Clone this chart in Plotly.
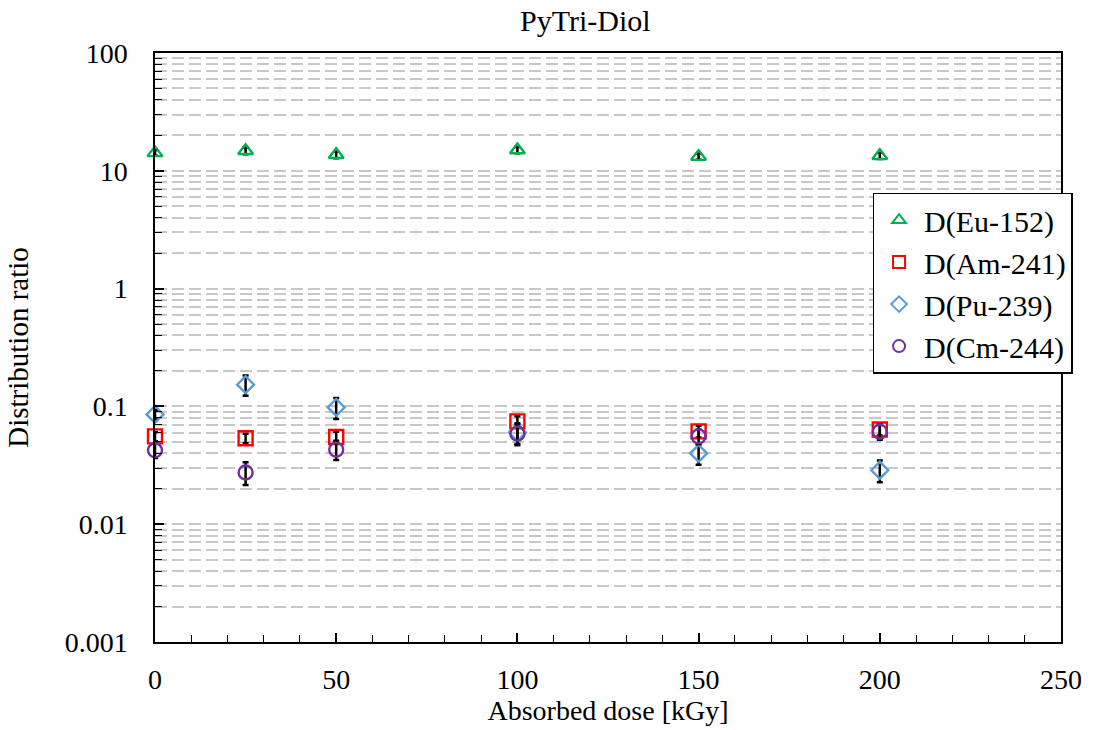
import plotly.graph_objects as go

dose = [0, 25, 50, 100, 150, 200]
d_eu = [14.2, 14.8, 13.7, 15.0, 13.2, 13.4]
e_eu = [0.8, 1.0, 0.9, 0.9, 0.8, 0.8]
d_am = [0.0557, 0.0536, 0.055, 0.0746, 0.0614, 0.0637]
e_am = [0.005, 0.005, 0.006, 0.008, 0.007, 0.007]
d_pu = [0.0855, 0.153, 0.098, 0.060, 0.040, 0.0287]
e_pu = [0.008, 0.030, 0.020, 0.012, 0.008, 0.006]
d_cm = [0.0424, 0.0275, 0.043, 0.0587, 0.0557, 0.061]
e_cm = [0.006, 0.006, 0.008, 0.012, 0.008, 0.009]

series = [
    ("D(Eu-152)", d_eu, e_eu, "triangle-up-open", "#00B050", 13),
    ("D(Am-241)", d_am, e_am, "square-open", "#FF0000", 14),
    ("D(Pu-239)", d_pu, e_pu, "diamond-open", "#5B9BD5", 13),
    ("D(Cm-244)", d_cm, e_cm, "circle-open", "#7030A0", 14),
]

fig = go.Figure()
for name, ys, es, sym, col, sz in series:
    fig.add_trace(go.Scatter(
        x=dose, y=ys, mode="markers", name=name,
        marker=dict(symbol=sym, size=sz, color=col, line=dict(width=2.4, color=col)),
        error_y=dict(type="data", array=es, visible=True, color="black", thickness=2.5, width=3),
        cliponaxis=False,
    ))

minor_vals = [m * 10.0 ** p for p in range(-3, 2) for m in range(2, 10)]

font = "Liberation Serif, Times New Roman, serif"
fig.update_layout(
    width=1094, height=730,
    margin=dict(l=155, r=28, t=53, b=87),
    paper_bgcolor="white", plot_bgcolor="white",
    font=dict(family=font, color="black", size=28),
    title=dict(text="PyTri-Diol", x=0.535, xanchor="center", y=0.972, yanchor="middle",
               font=dict(size=30, family=font)),
    showlegend=True,
    legend=dict(x=0.792, y=0.763, xanchor="left", yanchor="top",
                bgcolor="white", bordercolor="black", borderwidth=1.5,
                font=dict(size=30, family=font), itemsizing="constant",
                itemwidth=40, tracegroupgap=0),
    xaxis=dict(
        range=[0, 250], tickvals=[0, 50, 100, 150, 200, 250],
        showgrid=False, zeroline=False,
        showline=True, linecolor="black", linewidth=1.5, mirror=True,
        ticks="inside", ticklen=9, tickwidth=1.5, tickcolor="black",
        ticklabelstandoff=12,
        minor=dict(dtick=10, ticks="inside", ticklen=7, tickwidth=1.3, tickcolor="black", showgrid=False),
        title=dict(text="Absorbed dose [kGy]", font=dict(size=28, family=font), standoff=3),
        tickfont=dict(size=28, family=font),
    ),
    yaxis=dict(
        type="log", range=[-3, 2],
        tickvals=[0.001, 0.01, 0.1, 1, 10, 100],
        ticktext=["0.001", "0.01", "0.1", "1", "10", "100"],
        showgrid=True, gridcolor="#C8C8C8", gridwidth=1.5, griddash="12px,5px",
        zeroline=False,
        showline=True, linecolor="black", linewidth=1.5, mirror=True,
        ticks="inside", ticklen=9, tickwidth=1.5, tickcolor="black",
        ticklabelstandoff=20,
        minor=dict(tickvals=minor_vals, ticks="inside", ticklen=7, tickwidth=1.3, tickcolor="black",
                   showgrid=True, gridcolor="#C8C8C8", gridwidth=1.5, griddash="12px,5px"),
        title=dict(text="Distribution ratio", font=dict(size=29, family=font), standoff=28),
        tickfont=dict(size=28, family=font),
    ),
)

fig.write_html("out.html")
